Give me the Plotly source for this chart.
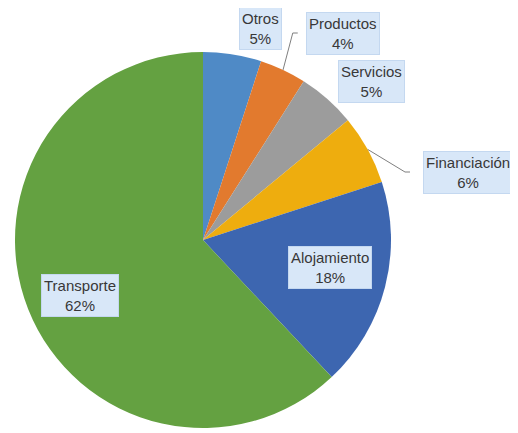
import math
import plotly.graph_objects as go

categories = ["Otros", "Productos", "Servicios", "Financiación", "Alojamiento", "Transporte"]
values = [5, 4, 5, 6, 18, 62]
colors = ["#4F8AC6", "#E27A2E", "#9C9C9C", "#EEAD0E", "#3D66B0", "#64A141"]
# label box centres (pixels in the 518x433 picture)
label_px = [(260, 28), (343, 33), (371, 81), (468, 172), (330, 267), (80, 295)]
leader = [False, True, False, True, False, False]

OFF = 8  # page body margin
W, H = 518 - OFF, 433 - OFF
cx, cy, R = 203 - OFF, 240 - OFF, 188

fig = go.Figure(go.Pie(
    labels=categories, values=values, sort=False, direction="clockwise",
    rotation=0, marker=dict(colors=colors, line=dict(width=0)),
    textinfo="none", hoverinfo="label+percent", showlegend=False,
    domain=dict(x=[(cx - R) / W, (cx + R) / W], y=[(H - cy - R) / H, (H - cy + R) / H]),
))

total = sum(values)
cum = 0
for cat, v, (lx, ly), lead in zip(categories, values, label_px, leader):
    lx, ly = lx - OFF, ly - OFF
    pct = round(100 * v / total)
    mid = (cum + v / 2) / total * 2 * math.pi
    cum += v
    fig.add_annotation(
        x=lx / W, y=1 - ly / H, xref="paper", yref="paper",
        text=f"{cat}<br>{pct}%", showarrow=False,
        font=dict(family="Arial", size=15, color="#383838"),
        bgcolor="#d8e7f8", bordercolor="#c4d8f0", borderwidth=1, borderpad=2,
        xanchor="center", yanchor="middle",
    )
    if lead:
        ex, ey = cx + R * math.sin(mid), cy - R * math.cos(mid)
        bx = lx - (len(cat) * 8.5) / 2 - 7
        fig.add_shape(type="path", xref="paper", yref="paper",
                      path=f"M {ex / W} {1 - ey / H} L {(bx - 5) / W} {1 - ly / H} L {bx / W} {1 - ly / H}",
                      line=dict(color="#7f7f7f", width=1))

fig.update_layout(width=W, height=H, margin=dict(l=0, r=0, t=0, b=0),
                  paper_bgcolor="white", plot_bgcolor="white")
fig.write_html("out.html")
